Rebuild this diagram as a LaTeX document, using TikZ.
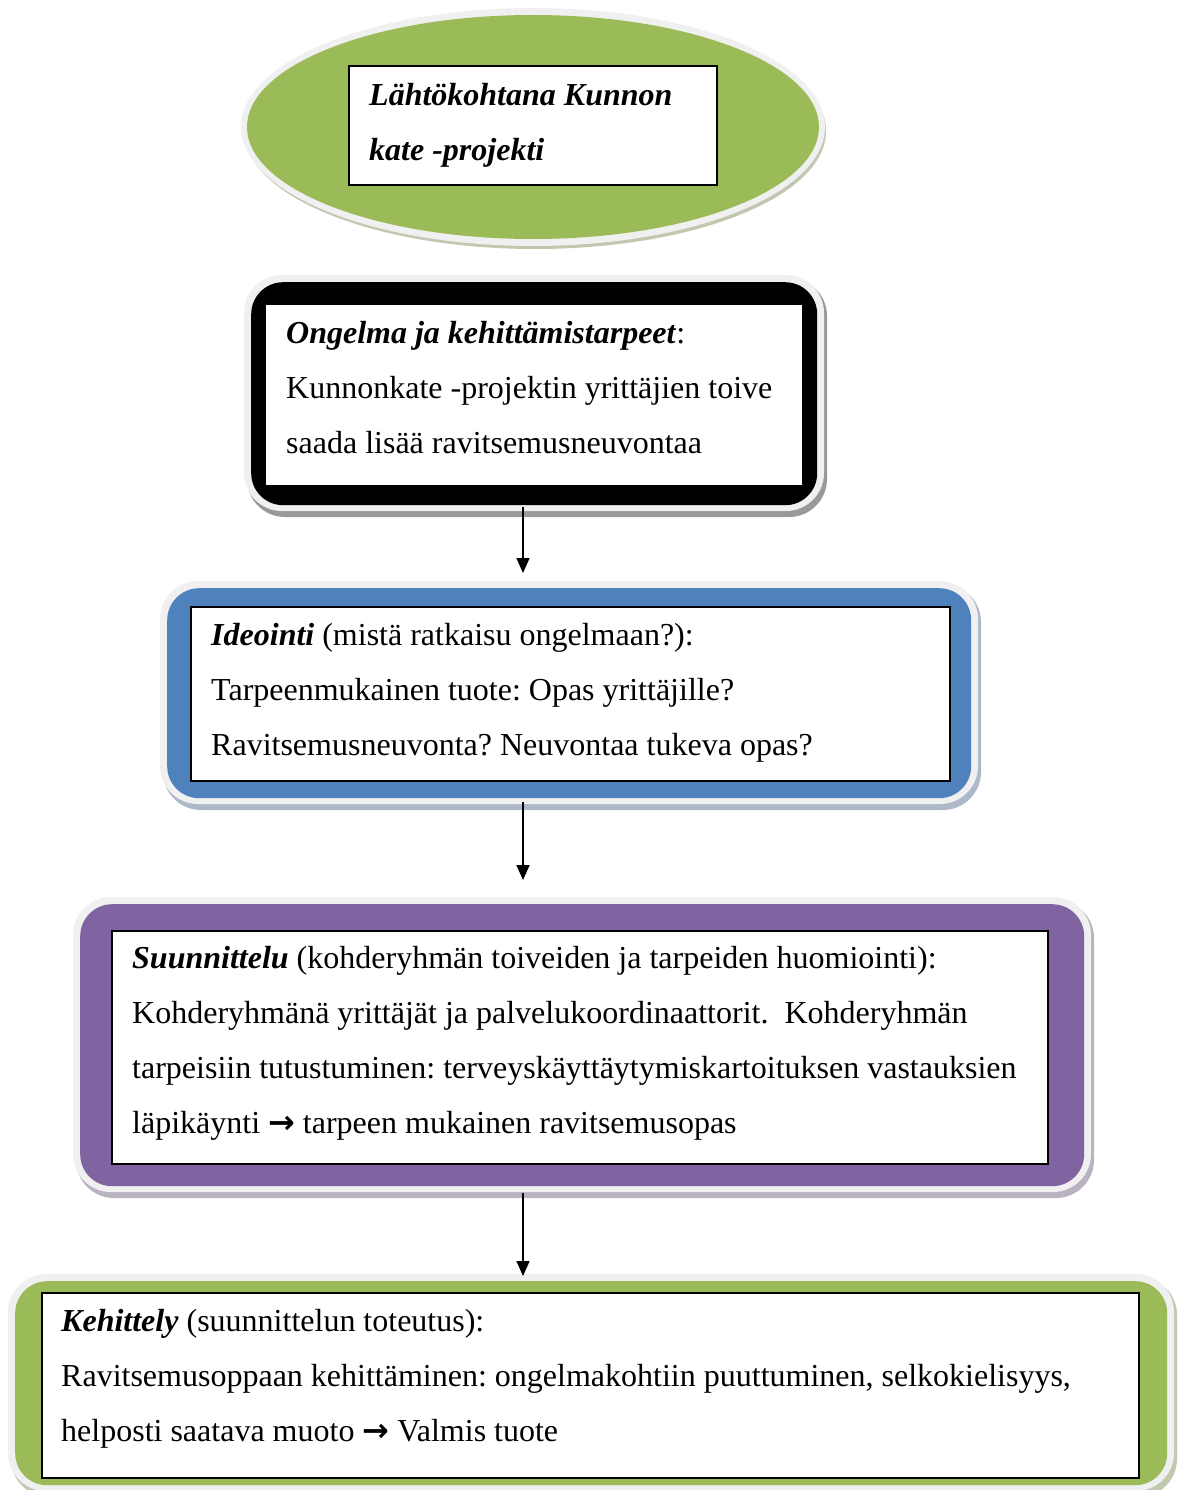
\documentclass[tikz,border=0pt]{standalone}
\usepackage{fontspec}
\setmainfont{Liberation Serif}
\newfontfamily\arrowfont{DejaVu Sans}
\usetikzlibrary{arrows.meta,shapes.geometric}
\definecolor{pgreen}{HTML}{9BBB59}
\definecolor{pblue}{HTML}{4F81BD}
\definecolor{ppurple}{HTML}{8064A2}
\definecolor{phalo}{HTML}{F0F0F0}
\newcommand\arr{{\arrowfont\bfseries →}}
\newcommand\pframe[6]{%
  \fill[#2!45!gray!55, rounded corners=38pt] (#3-4,#4-4) rectangle (#5+10,#6+12);
  \fill[phalo, rounded corners=38pt] (#3-7,#4-7) rectangle (#5+7,#6+6);
  \node[fill=#2, rounded corners=32pt, inner sep=0pt, minimum width=#5-#3, minimum height=#6-#4, anchor=north west] (#1) at (#3,#4) {};
}
\tikzset{
  txt/.style={anchor=base west, inner sep=0pt, font=\fontsize{32}{55}\selectfont\frenchspacing},
  whitebox/.style={draw=black, line width=2.2pt, fill=white, inner sep=0pt},
  flow/.style={-{Triangle[length=15pt,width=13pt]}, line width=1.5pt},
}
\begin{document}
\begin{tikzpicture}[x=1pt,y=-1pt]
\useasboundingbox (0,0) rectangle (1183,1490);
% ---------- ellipse ----------
\fill[pgreen!45!gray!55] (535,131) ellipse [x radius=291, y radius=118];
\fill[phalo] (533,127) ellipse [x radius=292, y radius=119];
\node[fill=pgreen, ellipse, inner sep=0pt, minimum width=572, minimum height=224, draw=none] (start) at (533,127) {};
\node[whitebox, minimum width=368, minimum height=119] (startbox) at (533,125.5) {};
\node[txt] (t0a) at (369,106) {\textbf{\textit{Lähtökohtana Kunnon}}};
\node[txt] (t0b) at (369,161) {\textbf{\textit{kate -projekti}}};
% ---------- black box ----------
\pframe{fblack}{black}{251}{282}{817}{505}
\node[fill=white, inner sep=0pt, minimum width=536, minimum height=180, anchor=north west] (wblack) at (266,305) {};
\node[txt] (t1a) at (286,343) {\textbf{\textit{Ongelma ja kehittämistarpeet}}:};
\node[txt] (t1b) at (286,398) {Kunnonkate -projektin yrittäjien toive};
\node[txt] (t1c) at (286,453) {saada lisää ravitsemusneuvontaa};
% ---------- blue box ----------
\pframe{fblue}{pblue}{167}{588}{971}{798}
\node[whitebox, minimum width=759, minimum height=174, anchor=north west] (wblue) at (190,606) {};
\node[txt] (t2a) at (211,645) {\textbf{\textit{Ideointi}} (mistä ratkaisu ongelmaan?):};
\node[txt] (t2b) at (211,700) {Tarpeenmukainen tuote: Opas yrittäjille?};
\node[txt] (t2c) at (211,755) {Ravitsemusneuvonta? Neuvontaa tukeva opas?};
% ---------- purple box ----------
\pframe{fpurple}{ppurple}{80}{904}{1084}{1186}
\node[whitebox, minimum width=936, minimum height=233, anchor=north west] (wpurple) at (111,930) {};
\node[txt] (t3a) at (132,968) {\textbf{\textit{Suunnittelu}} (kohderyhmän toiveiden ja tarpeiden huomiointi):};
\node[txt] (t3b) at (132,1023) {Kohderyhmänä yrittäjät ja palvelukoordinaattorit.\ \ Kohderyhmän};
\node[txt] (t3c) at (132,1078) {tarpeisiin tutustuminen: terveyskäyttäytymiskartoituksen vastauksien};
\node[txt] (t3d) at (132,1133) {läpikäynti \arr\ tarpeen mukainen ravitsemusopas};
% ---------- green box ----------
\pframe{fgreen}{pgreen}{15}{1281}{1167}{1485}
\node[whitebox, minimum width=1097, minimum height=185, anchor=north west] (wgreen) at (41,1292) {};
\node[txt] (t4a) at (61,1331) {\textbf{\textit{Kehittely}} (suunnittelun toteutus):};
\node[txt] (t4b) at (61,1386) {Ravitsemusoppaan kehittäminen: ongelmakohtiin puuttuminen, selkokielisyys,};
\node[txt] (t4c) at (61,1441) {helposti saatava muoto \arr\ Valmis tuote};
% ---------- arrows ----------
\coordinate (a1s) at (523,507);
\coordinate (a1e) at (523,573);
\coordinate (a2s) at (523,802);
\coordinate (a2e) at (523,880);
\coordinate (a3s) at (523,1193);
\coordinate (a3e) at (523,1276);
\draw[flow] (a1s) -- (a1e);
\draw[flow] (a2s) -- (a2e);
\draw[flow] (a3s) -- (a3e);
\end{tikzpicture}
\end{document}
